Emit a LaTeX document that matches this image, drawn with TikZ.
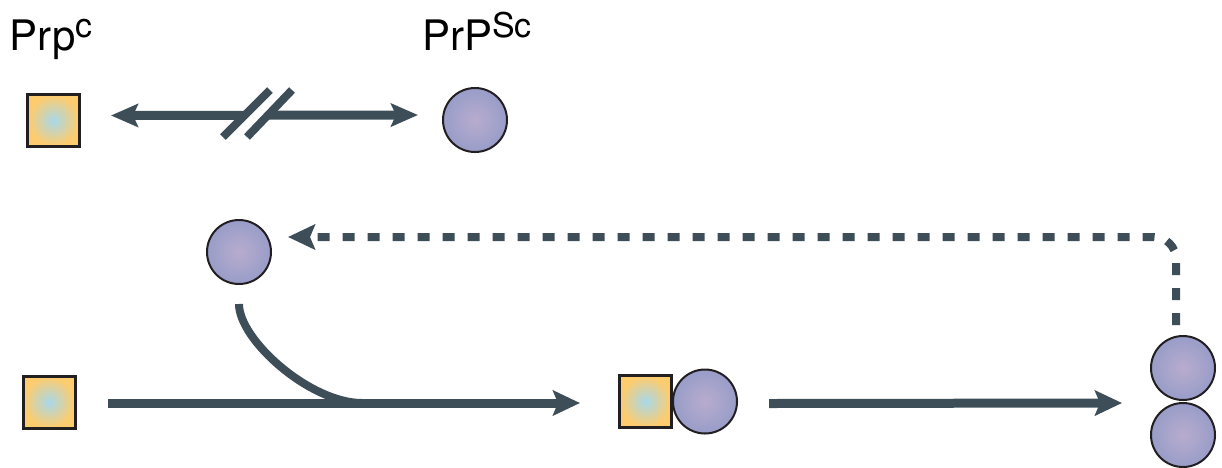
\documentclass[tikz,border=0pt]{standalone}
\usepackage{fontspec}
\setmainfont{TeX Gyre Heros}
\usetikzlibrary{arrows.meta}
\definecolor{ln}{RGB}{61,78,88}
\definecolor{bd}{RGB}{35,31,32}
\definecolor{sqin}{RGB}{168,216,234}
\definecolor{sqout}{RGB}{253,204,110}
\definecolor{cin}{RGB}{184,172,206}
\definecolor{cout}{RGB}{138,150,198}
\pgfdeclareradialshading{sqshade}{\pgfpoint{0bp}{0bp}}{color(0bp)=(sqin); color(24bp)=(sqout); color(50bp)=(sqout)}
\pgfdeclareradialshading{cshade}{\pgfpoint{0bp}{0bp}}{color(0bp)=(cin); color(36bp)=(cout); color(50bp)=(cout)}
\begin{document}
\begin{tikzpicture}[x=1pt,y=-1pt,
  prc/.style={draw=bd,line width=3pt,minimum size=52pt,inner sep=0pt,shading=sqshade},
  psc/.style={circle,draw=bd,line width=2pt,minimum size=64pt,inner sep=0pt,shading=cshade},
  conn/.style={draw=ln,line width=9pt,-{Stealth[length=27pt,width=25pt,inset=5pt]}},
  dconn/.style={draw=ln,line width=8pt,dash pattern=on 12pt off 13pt,-{Stealth[length=27pt,width=25pt,inset=5pt]}},
  lbl/.style={anchor=base west,inner sep=0pt,text=black}]
\useasboundingbox (0,0) rectangle (1222,467);
% labels
\node[lbl] (t1) at (9.5,50) {\fontsize{42}{48}\selectfont Prp\raisebox{12.5pt}{\fontsize{34}{40}\selectfont c}};
\node[lbl] (t2) at (422,50) {\fontsize{42}{48}\selectfont PrP\raisebox{12.5pt}{\fontsize{34}{40}\selectfont Sc}};
% top row
\node[prc] (sq1) at (53.5,120.5) {};
\node[psc] (c1) at (475,120) {};
\draw[draw=ln,line width=9pt,{Stealth[length=27pt,width=23pt,inset=5pt]}-{Stealth[length=27pt,width=23pt,inset=5pt]}]
  ([xshift=30pt,yshift=5pt]sq1.east) -- ([xshift=-24pt,yshift=5pt]c1.west);
\coordinate (brk) at (258,114);
\fill[white] ([shift={(-23,23)}]brk) -- ([shift={(1,23)}]brk) -- ([shift={(23,-23)}]brk) -- ([shift={(-1,-23)}]brk) -- cycle;
\draw[ln,line width=8pt] ([shift={(-35,23)}]brk) -- ([shift={(12,-24)}]brk);
\draw[ln,line width=8pt] ([shift={(-11,23)}]brk) -- ([shift={(34,-24)}]brk);
% bottom row
\node[psc] (c2) at (239,252) {};
\node[prc] (sq2) at (49,402) {};
\node[prc] (sq3) at (645.5,401.5) {};
\node[psc,anchor=west] (c3) at ([xshift=-1pt]sq3.east) {};
\node[psc] (c4) at (1183,368) {};
\node[psc] (c5) at (1183,435) {};
\coordinate (m) at (362,403);
\draw[draw=ln,line width=8pt] ([yshift=-19pt]c2.south) .. controls +(0,36) and +(-52,0) .. (m);
\path[conn] ([xshift=31pt,yshift=-1pt]sq2.east) -- ([xshift=-38pt,yshift=-1.5pt]sq3.west);
\path[conn] ([xshift=31pt,yshift=-2pt]c3.east) -- ([xshift=-28pt,yshift=-35pt]c4.west);
\path[dconn,rounded corners=22pt] ([xshift=-7pt,yshift=10pt]c4.north) |- ([xshift=16pt,yshift=15pt]c2.east);
\end{tikzpicture}
\end{document}
